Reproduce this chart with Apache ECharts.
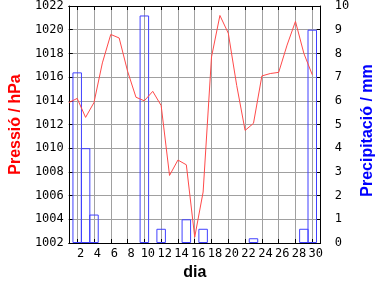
<!DOCTYPE html>
<html><head><meta charset="utf-8">
<script src="https://cdn.jsdelivr.net/npm/echarts@6/dist/echarts.min.js"></script>
<style>html,body{margin:0;padding:0;background:#fff}#c{width:384px;height:288px}</style>
</head><body><div id="c"></div>
<script>
const days = [1,2,3,4,5,6,7,8,9,10,11,12,13,14,15,16,17,18,19,20,21,22,23,24,25,26,27,28,29,30];
const pressure = [1013.85,1014.2,1012.6,1013.85,1017.2,1019.6,1019.3,1016.5,1014.3,1014.0,1014.8,1013.6,1007.7,1009.0,1008.6,1002.5,1006.3,1017.7,1021.2,1019.7,1015.3,1011.5,1012.1,1016.1,1016.3,1016.4,1018.7,1020.7,1018.0,1016.2];
const precip = [0,7.2,4.0,1.2,0,0,0,0,0,9.6,0,0.6,0,0,1.0,0,0.6,0,0,0,0,0,0.2,0,0,0,0,0,0.6,9.0];
const xTitle = 'dia';
const yLeftTitle = 'Pressió / hPa';
const yRightTitle = 'Precipitació / mm';

const mono = 'DejaVu Sans Mono';
const sans = 'Liberation Sans';
const tickStyle = {show:true, inside:true, length:4, lineStyle:{color:'#000', width:1}};
const lineBlack = {show:true, lineStyle:{color:'#000', width:1}};
const plain = v => String(v);

const chart = echarts.init(document.getElementById('c'), null, {renderer:'canvas'});
chart.setOption({
  animation:false,
  backgroundColor:'#fff',
  grid:{left:49, right:49, top:0, bottom:45, containLabel:false},
  xAxis:[{
    type:'value', position:'bottom', min:1, max:31, splitNumber:15,
    axisLine:lineBlack, axisTick:tickStyle,
    axisLabel:{showMinLabel:false, showMaxLabel:false, formatter:plain, fontFamily:mono, fontSize:12, color:'#000', margin:5, padding:[0,0,0,7]},
    splitLine:{show:true, lineStyle:{color:'#a0a0a0', width:1}},
    name:xTitle, nameLocation:'middle', nameGap:22,
    nameTextStyle:{fontFamily:sans, fontSize:16, fontWeight:'bold', color:'#000'}
  },{
    type:'value', position:'top', min:1, max:31, splitNumber:15,
    axisLine:lineBlack, axisTick:tickStyle, axisLabel:{show:false}, splitLine:{show:false}
  }],
  yAxis:[{
    type:'value', position:'left', min:1002, max:1022, interval:2,
    axisLine:lineBlack, axisTick:tickStyle,
    axisLabel:{formatter:plain, fontFamily:mono, fontSize:12, color:'#000', margin:5},
    splitLine:{show:true, lineStyle:{color:'#a0a0a0', width:1}},
    name:yLeftTitle, nameLocation:'middle', nameGap:37, nameRotate:90,
    nameTextStyle:{fontFamily:sans, fontSize:16, fontWeight:'bold', color:'#ff0000'}
  },{
    type:'value', position:'right', min:0, max:10, interval:1,
    axisLine:lineBlack, axisTick:tickStyle,
    axisLabel:{formatter:plain, fontFamily:mono, fontSize:12, color:'#000', margin:14},
    splitLine:{show:false},
    name:yRightTitle, nameLocation:'middle', nameGap:27, nameRotate:90,
    nameTextStyle:{fontFamily:sans, fontSize:16, fontWeight:'bold', color:'#0000ff', padding:[0,12,0,0]}
  }],
  series:[{
    type:'bar', xAxisIndex:0, yAxisIndex:1, barWidth:9.5,
    data: days.map((d,i)=> precip[i] > 0 ? [d, precip[i]] : [d, '-']),
    itemStyle:{color:'rgba(0,0,0,0)', borderColor:'#4040ff', borderWidth:1},
    z:3
  },{
    type:'line', xAxisIndex:0, yAxisIndex:0, showSymbol:false, symbol:'none',
    data: days.map((d,i)=>[d, pressure[i]]),
    lineStyle:{color:'#ff4a4a', width:1},
    z:4
  }]
});
</script></body></html>
